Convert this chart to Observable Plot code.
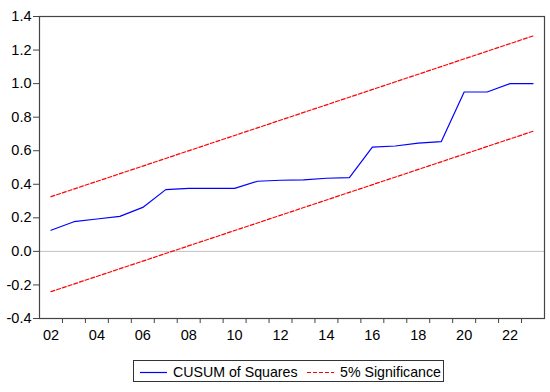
<!DOCTYPE html>
<html>
<head>
<meta charset="utf-8">
<script src="https://cdn.jsdelivr.net/npm/d3@7"></script>
<script src="https://cdn.jsdelivr.net/npm/@observablehq/plot@0.6"></script>
<style>
  html, body { margin: 0; padding: 0; background: #fff; }
  #wrap { position: relative; width: 550px; height: 392px; font-family: "Liberation Sans", Arial, sans-serif; }
  #legend { position: absolute; left: 133px; top: 360px; width: 311px; height: 22px; border: 1px solid #333; box-sizing: border-box; font-size: 14.2px; color: #000; }
  #legend .item { position: absolute; top: 0; height: 20px; line-height: 20px; white-space: nowrap; }
  #legend svg { position: absolute; top: 0; }
</style>
</head>
<body>
<div id="wrap"><div id="chart"></div><div id="legend"></div></div>
<script>
const years = [2002,2003,2004,2005,2006,2007,2008,2009,2010,2011,2012,2013,2014,2015,2016,2017,2018,2019,2020,2021,2022,2023];
const cusumSq = [0.126,0.177,0.193,0.209,0.262,0.368,0.376,0.376,0.376,0.418,0.424,0.426,0.436,0.440,0.622,0.628,0.645,0.654,0.950,0.950,1.000,1.000];
const boundYears = [2002, 2023];
const upperBound = [0.326, 1.284];
const lowerBound = [-0.240, 0.716];
const yTicks = [-0.4,-0.2,0.0,0.2,0.4,0.6,0.8,1.0,1.2,1.4];
const xLabelYears = [2002,2004,2006,2008,2010,2012,2014,2016,2018,2020,2022];
const xLabels = ["02","04","06","08","10","12","14","16","18","20","22"];
const seriesNames = ["CUSUM of Squares", "5% Significance"];
const seriesColors = ["#0000ff", "#ff0000"];

const blue = years.map((y, i) => ({year: y, value: cusumSq[i]}));
const upper = boundYears.map((y, i) => ({year: y, value: upperBound[i]}));
const lower = boundYears.map((y, i) => ({year: y, value: lowerBound[i]}));
const tickYears = years.slice(0, -1).map(y => y + 0.5);

const chart = Plot.plot({
  width: 550,
  height: 350,
  marginLeft: 39,
  marginRight: 6,
  marginTop: 16,
  marginBottom: 32,
  style: {fontFamily: "Liberation Sans, Arial, sans-serif", fontSize: "14.5px", color: "#000", background: "#fff"},
  x: {domain: [2001.5, 2023.5]},
  y: {domain: [-0.4, 1.4]},
  marks: [
    Plot.ruleY([0], {stroke: "#c0c0c0", strokeWidth: 1}),
    Plot.line(upper, {x: "year", y: "value", stroke: seriesColors[1], strokeWidth: 1.2, strokeDasharray: "4,2"}),
    Plot.line(lower, {x: "year", y: "value", stroke: seriesColors[1], strokeWidth: 1.2, strokeDasharray: "4,2"}),
    Plot.line(blue, {x: "year", y: "value", stroke: seriesColors[0], strokeWidth: 1.2}),
    Plot.axisY({ticks: yTicks, tickFormat: d => d.toFixed(1), tickSize: 6, tickPadding: 2, label: null, stroke: "#444", fill: "#000"}),
    Plot.axisX({ticks: tickYears, tickFormat: () => "", tickSize: 5, label: null, stroke: "#444"}),
    Plot.axisX({ticks: xLabelYears, tickFormat: d => xLabels[xLabelYears.indexOf(d)], tickSize: 0, tickPadding: 11, label: null, fill: "#000"}),
    Plot.frame({stroke: "#444", strokeWidth: 1.2})
  ]
});
document.getElementById("chart").appendChild(chart);

const legend = document.getElementById("legend");
const items = [
  {name: seriesNames[0], color: seriesColors[0], dash: null, sx: 6, tx: 39},
  {name: seriesNames[1], color: seriesColors[1], dash: "4,2", sx: 173, tx: 206}
];
for (const it of items) {
  const s = document.createElementNS("http://www.w3.org/2000/svg", "svg");
  s.setAttribute("width", 28); s.setAttribute("height", 20);
  s.style.left = it.sx + "px";
  const l = document.createElementNS("http://www.w3.org/2000/svg", "line");
  l.setAttribute("x1", 0); l.setAttribute("x2", 27); l.setAttribute("y1", 11.5); l.setAttribute("y2", 11.5);
  l.setAttribute("stroke", it.color); l.setAttribute("stroke-width", 1.2);
  if (it.dash) l.setAttribute("stroke-dasharray", it.dash);
  s.appendChild(l);
  legend.appendChild(s);
  const t = document.createElement("div");
  t.className = "item"; t.style.left = it.tx + "px"; t.style.top = "1px";
  t.textContent = it.name;
  legend.appendChild(t);
}
</script>
</body>
</html>
